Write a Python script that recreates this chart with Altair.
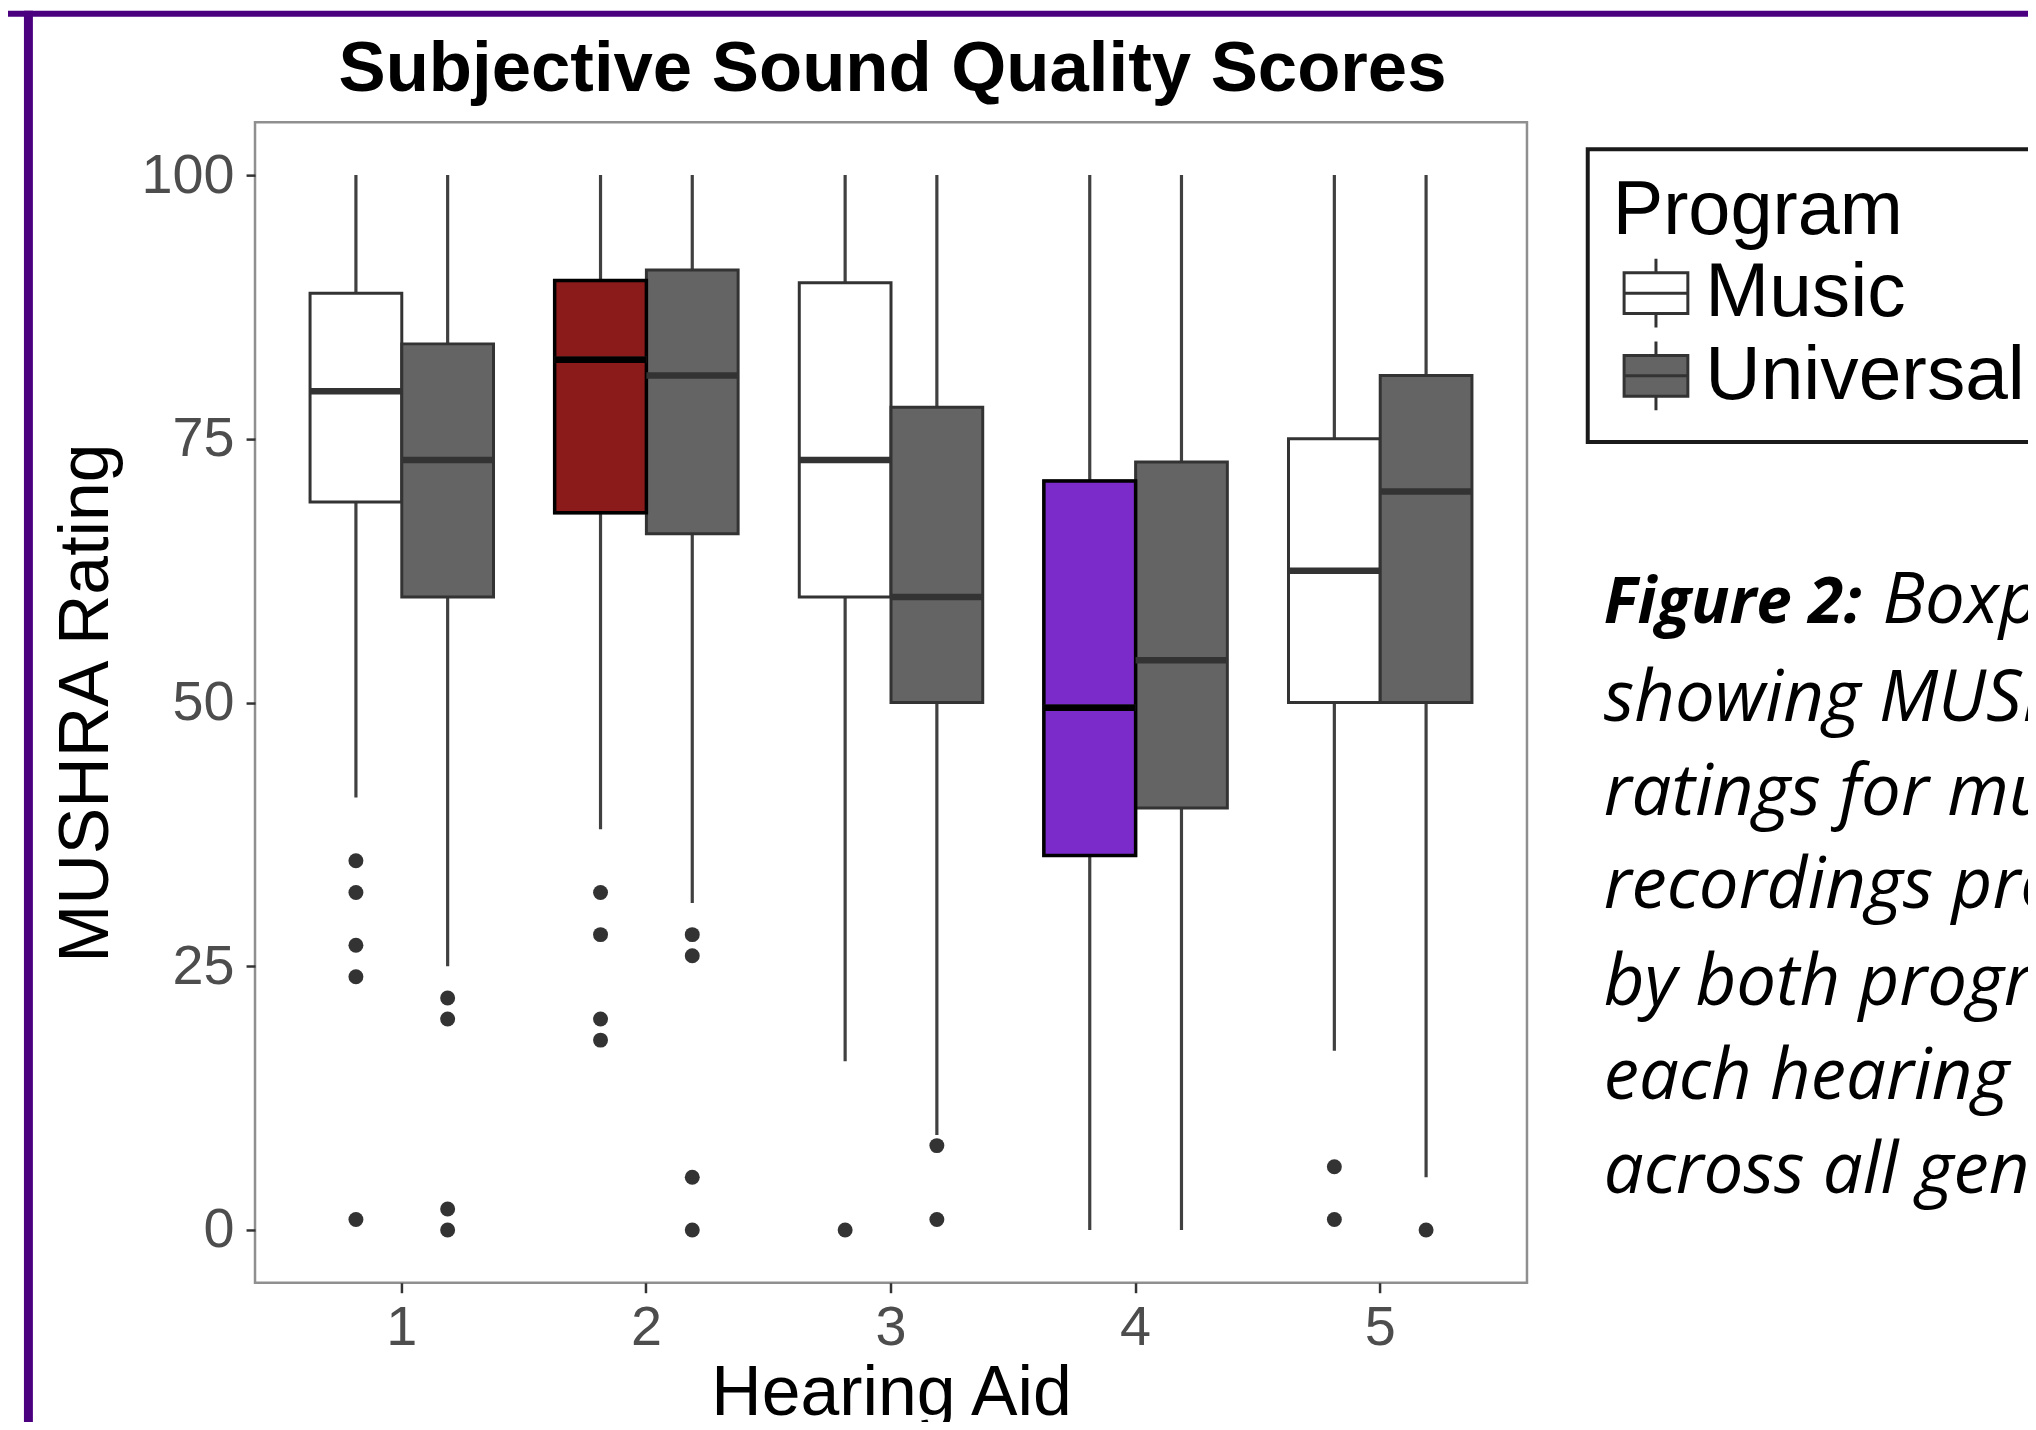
import altair as alt
import pandas as pd

# ---- data ----
HEARING_AID = ["1", "1", "2", "2", "3", "3", "4", "4", "5", "5"]
PROGRAM = ["Music", "Universal"] * 5
WHISKER_LO = [41, 25, 38, 31, 16, 9, 0, 0, 17, 5]
Q1 = [69, 60, 68, 66, 60, 50, 35.5, 40, 50, 50]
MEDIAN = [79.5, 73, 82.5, 81, 73, 60, 49.5, 54, 62.5, 70]
Q3 = [88.8, 84, 90, 91, 89.8, 78, 71, 72.8, 75, 81]
WHISKER_HI = [100, 100, 100, 100, 100, 100, 100, 100, 100, 100]

OUT_HA = ["1"] * 5 + ["1"] * 4 + ["2"] * 4 + ["2"] * 4 + ["3"] + ["3"] * 2 + ["5"] * 2 + ["5"]
OUT_PROGRAM = (["Music"] * 5 + ["Universal"] * 4 + ["Music"] * 4 + ["Universal"] * 4
               + ["Music"] + ["Universal"] * 2 + ["Music"] * 2 + ["Universal"])
OUT_VALUE = [35, 32, 27, 24, 1, 22, 20, 2, 0, 32, 28, 20, 18, 28, 26, 5, 0, 0, 8, 1, 6, 1, 0]

TITLE = "Subjective Sound Quality Scores"
CAPTION_BOLD = "Figure 2:"
CAPTION_LINES = ["Boxplots", "showing MUSHRA", "ratings for music", "recordings processed",
                 "by both programs on", "each hearing aid", "across all genres."]

boxes = pd.DataFrame({"ha": HEARING_AID, "program": PROGRAM, "lo": WHISKER_LO, "q1": Q1,
                      "med": MEDIAN, "q3": Q3, "hi": WHISKER_HI})
outliers = pd.DataFrame({"ha": OUT_HA, "program": OUT_PROGRAM, "value": OUT_VALUE})

# ---- styling ----
FONT = "Liberation Sans"
GREY_LINE = "#333333"
WHISKER = "#404040"
RED = "#8b1a1a"
PURPLE = "#7b2bca"
BORDER_PURPLE = "#4b0080"
BOX_PATH = "M-1,-0.64H1V0.64H-1Z M-1,0H1 M0,-0.64V-1.08 M0,0.64V1.08"

X = alt.X("ha:N", title="Hearing Aid",
          scale=alt.Scale(type="band", paddingInner=0.25, paddingOuter=0.225),
          axis=alt.Axis(labelAngle=0, tickSize=10, labelPadding=8, titlePadding=4))
XO = alt.XOffset("program:N", scale=alt.Scale(domain=["Music", "Universal"],
                                              paddingInner=0, paddingOuter=0))
YSCALE = alt.Scale(domain=[-5, 105], nice=False, zero=False)
YAXIS = alt.Axis(values=[0, 25, 50, 75, 100], title="MUSHRA Rating", tickSize=9,
                 labelPadding=12, titlePadding=19)

base = alt.Chart(boxes)

whiskers = base.mark_rule(color=WHISKER, strokeWidth=3.2).encode(
    x=X, xOffset=XO, y=alt.Y("lo:Q", scale=YSCALE, axis=YAXIS), y2="hi:Q")

box = base.mark_bar(stroke=GREY_LINE, strokeWidth=3).encode(
    x=X, xOffset=XO, y=alt.Y("q1:Q", scale=YSCALE, axis=YAXIS), y2="q3:Q",
    fill=alt.Fill("program:N", title="Program",
                  scale=alt.Scale(domain=["Music", "Universal"], range=["#ffffff", "#646464"]),
                  legend=alt.Legend(orient="none", legendX=1338, legendY=27,
                                    symbolType=BOX_PATH, symbolSize=4096,
                                    symbolStrokeColor=GREY_LINE, symbolStrokeWidth=3,
                                    symbolOffset=5, labelOffset=11,
                                    labelLimit=2000, titleLimit=2000)))

def highlight(ha, prog, color):
    sel = base.transform_filter(f"datum.ha == '{ha}' && datum.program == '{prog}'")
    b = sel.mark_bar(fill=color, stroke="black", strokeWidth=3.5).encode(
        x=X, xOffset=XO, y=alt.Y("q1:Q", scale=YSCALE, axis=YAXIS), y2="q3:Q")
    m = sel.mark_bar(fillOpacity=0, stroke="black", strokeWidth=6.5).encode(
        x=X, xOffset=XO, y=alt.Y("med:Q", scale=YSCALE, axis=YAXIS), y2="med:Q")
    return b, m

medians = base.mark_bar(fillOpacity=0, stroke=GREY_LINE, strokeWidth=6.5).encode(
    x=X, xOffset=XO, y=alt.Y("med:Q", scale=YSCALE, axis=YAXIS), y2="med:Q")

hb2, hm2 = highlight("2", "Music", RED)
hb4, hm4 = highlight("4", "Music", PURPLE)

points = alt.Chart(outliers).mark_circle(color=GREY_LINE, size=225, opacity=1).encode(
    x=X, xOffset=XO, y=alt.Y("value:Q", scale=YSCALE, axis=YAXIS))

def text_layer(s, x, y, bold=False, font="Open Sans", size=71, italic=True, align="left"):
    kw = dict(align=align, baseline="alphabetic", font=font,
              fontWeight="bold" if bold else "normal", fontSize=size, color="black")
    if italic:
        kw["fontStyle"] = "italic"
    return alt.Chart(pd.DataFrame({"t": [s]})).mark_text(**kw).encode(
        x=alt.value(x), y=alt.value(y), text="t:N")

title = text_layer(TITLE, 640, -31, bold=True, font=FONT, size=71, italic=False, align="center")

CAP_X = 1354
CAP_Y = [503, 601, 695, 789, 886, 981, 1075]
captions = [text_layer(CAPTION_BOLD, CAP_X, CAP_Y[0], bold=True, size=64),
            text_layer(CAPTION_LINES[0], 1634, CAP_Y[0])]
for line, yy in zip(CAPTION_LINES[1:], CAP_Y[1:]):
    captions.append(text_layer(line, CAP_X, yy))

frame_df = pd.DataFrame({"a": [0]})
top_bar = alt.Chart(frame_df).mark_rect(color=BORDER_PURPLE).encode(
    x=alt.value(-248), x2=alt.value(1790), y=alt.value(-112), y2=alt.value(-106))
left_bar = alt.Chart(frame_df).mark_rect(color=BORDER_PURPLE).encode(
    x=alt.value(-232), x2=alt.value(-223), y=alt.value(-112), y2=alt.value(1320))

chart = alt.layer(
    whiskers, box, hb2, hb4, medians, hm2, hm4, points, title, *captions, top_bar, left_bar
).properties(
    width=1277, height=1165,
    padding={"left": 248, "top": 112, "right": 503, "bottom": 137},
    autosize=alt.AutoSizeParams(type="none"),
).configure_view(
    stroke="#8f8f8f", strokeWidth=2.5
).configure_axis(
    grid=False, domain=False, tickColor=GREY_LINE, tickWidth=2.5,
    labelFont=FONT, labelFontSize=56, labelColor="#4d4d4d",
    titleFont=FONT, titleFontSize=70, titleFontWeight="normal", titleColor="black",
).configure_legend(
    titleFont=FONT, titleFontSize=76, titleFontWeight="normal", titleColor="black",
    labelFont=FONT, labelFontSize=77, labelColor="black",
    strokeColor="#1a1a1a", strokeWidth=4, padding=25, titlePadding=5, rowPadding=0,
)

chart.save("out.html", embed_options={"renderer": "svg", "actions": False})
